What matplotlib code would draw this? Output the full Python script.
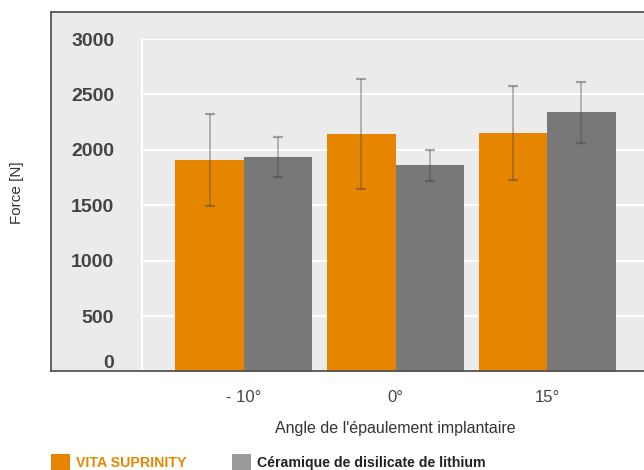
import numpy as np
import matplotlib
matplotlib.use('Agg')
import matplotlib.pyplot as plt
from matplotlib.patches import Rectangle, Patch
from matplotlib.lines import Line2D

# ---- data ----
angles = ['- 10°', '0°', '15°']
vita = [1910, 2143, 2152]
vita_err = [415, 494, 421]
lithium = [1932, 1862, 2338]
lithium_err = [180, 139, 272]
y_ticks = [0, 500, 1000, 1500, 2000, 2500, 3000]

ORANGE = '#E68600'
GREY = '#787878'
GREY_LEG = '#9A9A9A'
BG = '#EBEBEB'
NARROW = ['Liberation Sans Narrow', 'Liberation Sans', 'DejaVu Sans']
SANS = ['Liberation Sans', 'DejaVu Sans']

W, H = 644, 470
fig = plt.figure(figsize=(W / 100, H / 100), dpi=100)

# outer grey panel with dark border (left, top, bottom)
px, py = lambda x: x / W, lambda y: 1 - y / H
fig.add_artist(Rectangle((px(51), py(371)), 1 - px(51) + 0.01, py(12) - py(371),
                         transform=fig.transFigure, fc=BG, ec='none', zorder=0))
for xs, ys in [([51, 51], [12, 371]), ([51, 650], [12, 12]), ([51, 650], [371, 371])]:
    fig.add_artist(Line2D([px(x) for x in xs], [py(y) for y in ys],
                          transform=fig.transFigure, color='#555555', lw=1.3, zorder=5))

ax = fig.add_axes([px(142), py(371.5), 1 - px(142), py(39) - py(371.5)])
ax.set_facecolor(BG)
ax.set_ylim(0, 3000)
ax.set_xlim(-0.673, 2.64)

x = np.arange(len(angles))
bw = 0.452
ekw = dict(ecolor='#444444', elinewidth=1.1, capsize=3.8, capthick=1.6, alpha=0.45)
ax.bar(x - bw / 2, vita, bw, color=ORANGE, zorder=2)
ax.bar(x + bw / 2, lithium, bw, color=GREY, zorder=2)
ax.errorbar(x - bw / 2, vita, yerr=vita_err, fmt='none', zorder=3, **ekw)
ax.errorbar(x + bw / 2, lithium, yerr=lithium_err, fmt='none', zorder=3, **ekw)

for v in y_ticks[1:]:
    ax.axhline(v, color='white', lw=1.5, zorder=1)

for s in ['top', 'right', 'bottom']:
    ax.spines[s].set_visible(False)
ax.spines['left'].set_color('white')
ax.spines['left'].set_linewidth(1.5)

ax.set_yticks(y_ticks)
ax.set_yticklabels([str(v) for v in y_ticks], fontweight='bold', color='#444444',
                   fontsize=14, family=NARROW)
ax.tick_params(axis='y', length=0, pad=20)
ax.get_yticklabels()[0].set_va('bottom')

ax.set_xticks(x)
ax.set_xticklabels(angles, color='#444444', fontsize=12, family=SANS)
ax.tick_params(axis='x', length=0, pad=13)

fig.text(px(395), py(428), "Angle de l'épaulement implantaire", ha='center', va='center',
         fontsize=11.5, color='#333333', family=SANS)
fig.text(px(16.5), py(192.5), 'Force [N]', rotation=90, ha='center', va='center',
         fontsize=11, color='#333333', family=SANS)

handles = [Patch(fc=ORANGE, ec='none'), Patch(fc=GREY_LEG, ec='none')]
leg = fig.legend(handles, ['VITA SUPRINITY', 'Céramique de disilicate de lithium'],
                 loc='center left', bbox_to_anchor=(px(51), py(462)), ncol=2,
                 frameon=False, borderpad=0, borderaxespad=0,
                 handlelength=1.35, handleheight=1.3, handletextpad=0.45,
                 columnspacing=3.15, prop=dict(family=NARROW, weight='bold', size=10.2))
leg.get_texts()[0].set_color(ORANGE)
leg.get_texts()[1].set_color('#222222')

fig.savefig('out.png', dpi=100)
